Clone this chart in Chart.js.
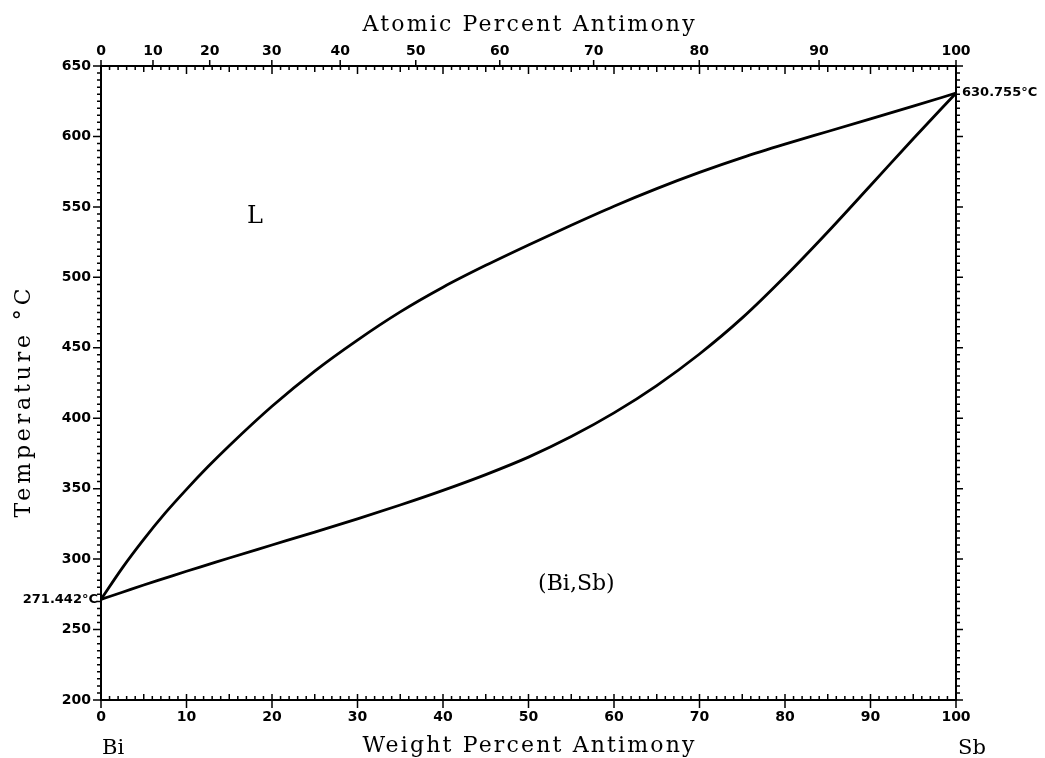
<!DOCTYPE html>
<html>
<head>
<meta charset="utf-8">
<title>Bi-Sb phase diagram</title>
<script src="https://cdn.jsdelivr.net/npm/chart.js@4.4.1/dist/chart.umd.min.js"></script>
<style>
  html, body { margin: 0; padding: 0; background: #fff; }
  canvas { display: block; }
</style>
</head>
<body>
<canvas id="chart" width="1045" height="758"></canvas>
<script>
// ===============================================
// DATA
// ===============================================
const weightPct = [0, 2.5, 5, 7.5, 10, 12.5, 15, 20, 25, 30, 35, 40, 45, 50, 55, 60, 65, 70, 75, 80, 85, 90, 95, 100];
const liquidusT = [271.442, 293.8, 314, 332.6, 349.5, 365.5, 380.5, 408.5, 433.5, 455.5, 475.5, 493, 508.5, 523, 537, 550.5, 563, 574.5, 585, 594.5, 603.5, 612.5, 621.5, 630.755];
const solidusT  = [271.442, 276.5, 281.6, 286.5, 291.4, 296.1, 300.8, 310, 319.2, 328.6, 338.4, 348.8, 360, 372.4, 387, 403.8, 423.2, 445.6, 471.2, 500.6, 532.2, 565.2, 598.4, 630.755];

const meltingPoints = [271.442, 630.755];           // Bi, Sb
const atomicTicks = [0, 10, 20, 30, 40, 50, 60, 70, 80, 90, 100];
const tempTicks = [200, 250, 300, 350, 400, 450, 500, 550, 600, 650];

// atomic masses, used only to place the top (atomic %) axis
const M_SB = 121.76;
const M_BI = 208.98;
function atomicToWeight(at) {
    const sb = at * M_SB;
    const bi = (100 - at) * M_BI;
    return 100 * sb / (sb + bi);
}

const tickFont = { family: "'DejaVu Sans', sans-serif", size: 14, weight: "bold" };
const titleFont = "22px 'DejaVu Serif', serif";

// ===============================================
// FRAME + TICK MARKS
// ===============================================
const frameTicks = {
    id: "frameTicks",
    afterDraw(chart) {
        const ctx = chart.ctx;
        const a = chart.chartArea;
        const x = chart.scales.x;
        const y = chart.scales.y;
        ctx.save();
        ctx.strokeStyle = "#000";
        ctx.lineWidth = 2;
        ctx.strokeRect(a.left, a.top, a.right - a.left, a.bottom - a.top);

        ctx.lineWidth = 1.5;
        ctx.beginPath();
        // weight percent ticks (bottom + top)
        for (let w = 0; w <= 100; w++) {
            const px = x.getPixelForValue(w);
            const major = w % 10 === 0;
            const mid = w % 5 === 0;
            ctx.moveTo(px, a.bottom - (mid ? 6 : 4));
            ctx.lineTo(px, a.bottom + (major ? 8 : 0));
            ctx.moveTo(px, a.top);
            ctx.lineTo(px, a.top + (major ? 8 : (mid ? 6 : 4)));
        }
        // atomic percent ticks (top, outward)
        atomicTicks.forEach(at => {
            const px = x.getPixelForValue(atomicToWeight(at));
            ctx.moveTo(px, a.top);
            ctx.lineTo(px, a.top - 6);
        });
        // temperature ticks (left + right)
        for (let t = 200; t <= 650; t += 5) {
            const py = y.getPixelForValue(t);
            const major = t % 50 === 0;
            ctx.moveTo(a.left - (major ? 8 : 4), py);
            ctx.lineTo(a.left, py);
            ctx.moveTo(a.right, py);
            ctx.lineTo(a.right + (major ? 7 : 4), py);
        }
        ctx.stroke();
        ctx.restore();
    }
};

// ===============================================
// TEXTS (titles, labels)
// ===============================================
function drawSpaced(ctx, text, cx, by, target) {
    ctx.font = titleFont;
    ctx.letterSpacing = "0px";
    const w0 = ctx.measureText(text).width;
    const sp = (target - w0) / (text.length - 1);
    ctx.letterSpacing = sp.toFixed(2) + "px";
    ctx.textAlign = "left";
    ctx.textBaseline = "alphabetic";
    ctx.fillText(text, cx - target / 2, by);
    ctx.letterSpacing = "0px";
}

const diagramText = {
    id: "diagramText",
    afterDraw(chart) {
        const ctx = chart.ctx;
        const a = chart.chartArea;
        const x = chart.scales.x;
        const y = chart.scales.y;
        const cx = (a.left + a.right) / 2;
        ctx.save();
        ctx.fillStyle = "#000";

        drawSpaced(ctx, "Atomic Percent Antimony", cx, 31, 332);
        drawSpaced(ctx, "Weight Percent Antimony", cx, 752, 332);

        ctx.save();
        ctx.translate(30, (a.top + a.bottom) / 2 + 20);
        ctx.rotate(-Math.PI / 2);
        drawSpaced(ctx, "Temperature °C", 0, 0, 229);
        ctx.restore();

        // melting points
        ctx.font = "bold 13px 'DejaVu Sans', sans-serif";
        ctx.textBaseline = "middle";
        ctx.textAlign = "right";
        ctx.fillText(meltingPoints[0].toFixed(3) + "°C", a.left - 3, y.getPixelForValue(meltingPoints[0]));
        ctx.textAlign = "left";
        ctx.fillText(meltingPoints[1].toFixed(3) + "°C", a.right + 6, y.getPixelForValue(meltingPoints[1]));

        // element names
        ctx.font = "21px 'DejaVu Serif', serif";
        ctx.textBaseline = "alphabetic";
        ctx.fillText("Bi", a.left + 1, 754);
        ctx.fillText("Sb", a.right + 2, 754);

        // phase fields
        ctx.textAlign = "center";
        ctx.textBaseline = "middle";
        ctx.font = "24px 'DejaVu Serif', serif";
        ctx.fillText("L", x.getPixelForValue(18), y.getPixelForValue(543));
        ctx.font = "22px 'DejaVu Serif', serif";
        ctx.fillText("(Bi,Sb)", x.getPixelForValue(55.6), y.getPixelForValue(282));
        ctx.restore();
    }
};

// ===============================================
// CHART
// ===============================================
function curve(temps) {
    return weightPct.map((w, i) => ({ x: w, y: temps[i] }));
}

const lineStyle = {
    showLine: true,
    borderColor: "#000",
    borderWidth: 2.8,
    pointRadius: 0,
    fill: false,
    cubicInterpolationMode: "monotone"
};

new Chart(document.getElementById("chart"), {
    type: "scatter",
    data: {
        datasets: [
            { label: "Liquidus", data: curve(liquidusT), ...lineStyle },
            { label: "Solidus", data: curve(solidusT), ...lineStyle }
        ]
    },
    options: {
        responsive: false,
        animation: false,
        layout: { padding: { left: 0, right: 89, top: 0, bottom: 0 } },
        plugins: {
            legend: { display: false },
            tooltip: { enabled: false }
        },
        scales: {
            x: {
                type: "linear",
                position: "bottom",
                min: 0,
                max: 100,
                ticks: { stepSize: 10, color: "#000", font: tickFont, padding: 9, maxRotation: 0 },
                grid: { display: false, drawTicks: false },
                border: { display: false },
                afterFit: s => { s.height = 58; }
            },
            xTop: {
                type: "linear",
                position: "top",
                min: 0,
                max: 100,
                afterBuildTicks: s => { s.ticks = atomicTicks.map(at => ({ value: atomicToWeight(at) })); },
                ticks: {
                    callback: (v, i) => String(atomicTicks[i]),
                    autoSkip: false,
                    color: "#000",
                    font: tickFont,
                    padding: 6,
                    maxRotation: 0
                },
                grid: { display: false, drawTicks: false },
                border: { display: false },
                afterFit: s => { s.height = 66; }
            },
            y: {
                type: "linear",
                min: 200,
                max: 650,
                afterBuildTicks: s => { s.ticks = tempTicks.map(t => ({ value: t })); },
                ticks: { color: "#000", font: tickFont, padding: 10 },
                grid: { display: false, drawTicks: false },
                border: { display: false },
                afterFit: s => { s.width = 101; }
            }
        }
    },
    plugins: [frameTicks, diagramText]
});
</script>
</body>
</html>
